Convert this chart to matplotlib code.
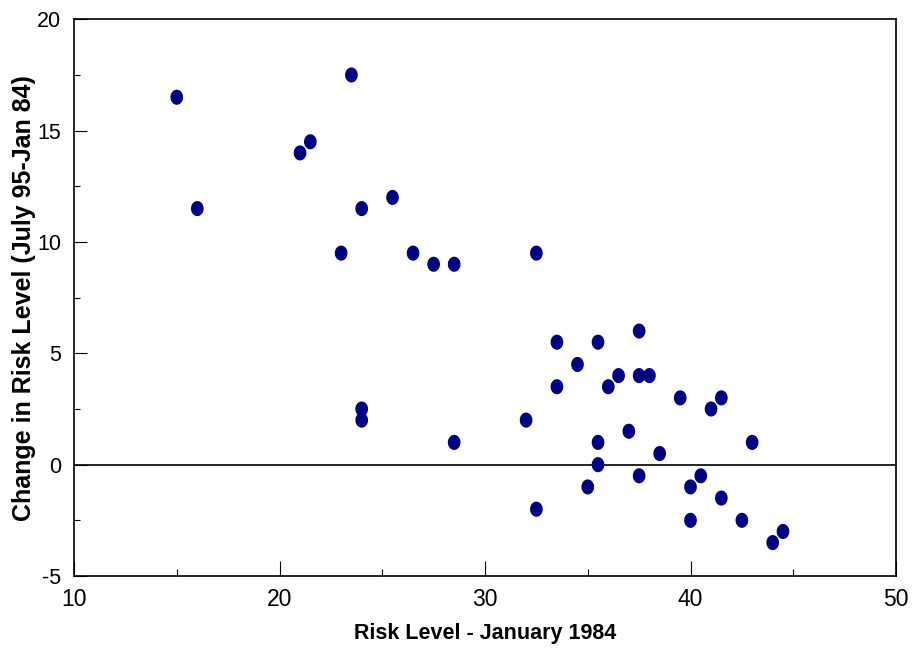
import numpy as np
import matplotlib
matplotlib.use("Agg")
import matplotlib.pyplot as plt
from matplotlib.path import Path
from matplotlib.ticker import MultipleLocator

# Data
risk_1984 = [15, 16, 21, 21.5, 23.5, 24, 25.5, 23, 26.5, 27.5, 28.5, 32.5,
             37.5, 33.5, 35.5, 34.5, 36.5, 37.5, 38, 33.5, 36, 39.5, 41.5, 41,
             32, 37, 35.5, 43, 38.5, 35.5, 37.5, 40.5, 35, 40, 41.5, 32.5,
             40, 42.5, 44.5, 44, 24, 24, 28.5]
risk_change = [16.5, 11.5, 14, 14.5, 17.5, 11.5, 12, 9.5, 9.5, 9, 9, 9.5,
               6, 5.5, 5.5, 4.5, 4, 4, 4, 3.5, 3.5, 3, 3, 2.5,
               2, 1.5, 1, 1, 0.5, 0, -0.5, -0.5, -1, -1, -1.5, -2,
               -2.5, -2.5, -3, -3.5, 2.5, 2, 1]
x_ticks = [10, 20, 30, 40, 50]
y_ticks = [-5, 0, 5, 10, 15, 20]
x_label = "Risk Level - January 1984"
y_label = "Change in Risk Level (July 95-Jan 84)"

plt.rcParams['font.family'] = ['Liberation Sans', 'DejaVu Sans']
plt.rcParams['axes.unicode_minus'] = False

fig = plt.figure(figsize=(9.14, 6.52), dpi=100)
ax = fig.add_axes([74/914, 76/652, (896-74)/914, (576-19.3)/652])

# elliptical marker (slightly taller than wide)
t = np.linspace(0, 2*np.pi, 60)
ell = Path(np.column_stack([0.42*np.cos(t), 0.5*np.sin(t)]), closed=True)

ax.scatter(risk_1984, risk_change, marker=ell, s=118, color='#000080',
           edgecolors='none', zorder=3)
ax.axhline(0, color='black', lw=1.2, zorder=2)

ax.set_xlim(10, 50)
ax.set_ylim(-5, 20)
ax.set_xticks(x_ticks)
ax.set_yticks(y_ticks)
ax.xaxis.set_minor_locator(MultipleLocator(5))
ax.yaxis.set_minor_locator(MultipleLocator(2.5))
ax.tick_params(axis='x', which='major', direction='in', length=11, width=0.8,
               pad=9, labelsize=16.5)
ax.tick_params(axis='x', which='minor', direction='in', length=5, width=0.8)
ax.tick_params(axis='y', which='major', direction='in', length=9, width=0.8,
               pad=9, labelsize=15.5)
ax.tick_params(axis='y', which='minor', direction='in', length=4, width=0.8)
for s in ax.spines.values():
    s.set_linewidth(1.2)

ax.set_xlabel(x_label, fontsize=15.5, fontweight='bold')
ax.xaxis.label.set_va('center')
ax.xaxis.set_label_coords(0.5, (576 - 633) / 556.7)
ax.set_ylabel(y_label, fontsize=18, fontweight='bold')
ax.yaxis.label.set_va('center')
ax.yaxis.set_label_coords((24 - 74) / 822, 0.5)

fig.savefig("out.png", dpi=100)
